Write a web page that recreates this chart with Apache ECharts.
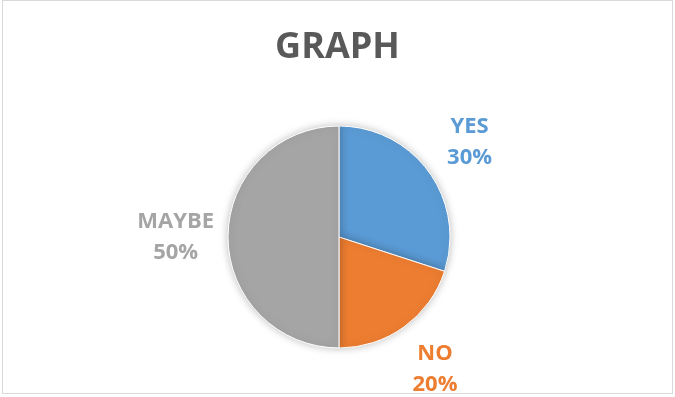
<!DOCTYPE html>
<html>
<head>
<meta charset="utf-8">
<script src="https://cdn.jsdelivr.net/npm/echarts@6/dist/echarts.min.js"></script>
<style>
  html, body { margin: 0; padding: 0; background: #fff; }
  #chart { position: absolute; left: 2px; top: 0; width: 671px; height: 394px; border: 1px solid #d9d9d9; box-sizing: border-box; }
</style>
</head>
<body>
<div id="chart"></div>
<script>
// Survey answers and their shares (percent)
const categories = ['YES', 'NO', 'MAYBE'];
const values = [30, 20, 50];
const colors = ['#5B9BD5', '#ED7D31', '#A5A5A5'];

const chart = echarts.init(document.getElementById('chart'));

// Pie geometry (in chart-container pixels)
const CX = 336, CY = 236, R = 111, LABEL_GAP = 14;
const total = values.reduce((a, b) => a + b, 0);

// Bisector angle of a slice, measured clockwise from 12 o'clock
function midAngle(idx) {
  let before = 0;
  for (let i = 0; i < idx; i++) before += values[i];
  return ((before + values[idx] / 2) / total) * 2 * Math.PI;
}

chart.setOption({
  animation: false,
  title: {
    text: 'GRAPH',
    left: 'center',
    top: 24,
    textStyle: { fontFamily: 'Open Sans', fontWeight: 'bold', fontSize: 36, color: '#595959' }
  },
  series: [{
    type: 'pie',
    center: [CX, CY],
    radius: R,
    startAngle: 90,
    clockwise: true,
    data: categories.map((name, i) => ({
      name,
      value: values[i],
      itemStyle: { color: colors[i] },
      label: { color: colors[i] }
    })),
    itemStyle: {
      borderColor: '#fff',
      borderWidth: 1,
      shadowBlur: 8,
      shadowColor: 'rgba(0,0,0,0.25)'
    },
    label: {
      show: true,
      position: 'outside',
      formatter: '{b}\n{d}%',
      fontFamily: 'Open Sans',
      fontWeight: 'bold',
      fontSize: 22,
      lineHeight: 31,
      align: 'center'
    },
    labelLine: { show: false },
    // Sit each label just outside the rim, on its slice's bisector
    labelLayout: function (params) {
      const a = midAngle(params.dataIndex);
      const s = Math.sin(a), c = Math.cos(a);
      const w = params.labelRect.width, h = params.labelRect.height;
      const d = R + LABEL_GAP + Math.abs(s) * w / 2 + Math.abs(c) * h / 2;
      return {
        x: CX + d * s,
        y: CY - d * c,
        align: 'center',
        verticalAlign: 'middle'
      };
    }
  }]
});
</script>
</body>
</html>
